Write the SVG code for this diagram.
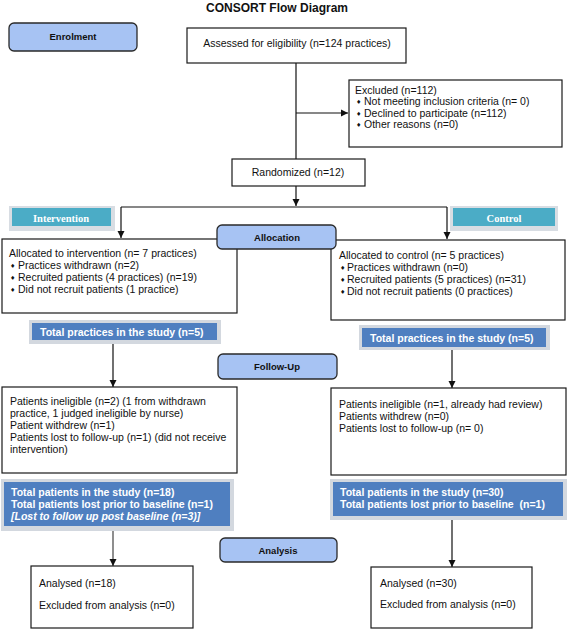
<svg xmlns="http://www.w3.org/2000/svg" width="568" height="629" viewBox="0 0 568 629">
<defs>
<marker id="arr" markerWidth="8" markerHeight="8" refX="7" refY="4" orient="auto" markerUnits="userSpaceOnUse">
<path d="M0,0.5 L7,4 L0,7.5 Z" fill="#111"/>
</marker>
</defs>
<style>
.box{fill:#fff;stroke:#1a1a1a;stroke-width:1.2}
.rbox{fill:#a7c3f3;stroke:#2a2a2a;stroke-width:1.3}
.t{font-family:"Liberation Sans",Arial,sans-serif;font-size:10.5px;fill:#111}
.rt{font-family:"Liberation Sans",Arial,sans-serif;font-size:9.5px;font-weight:bold;fill:#111;text-anchor:middle}
.bul{font-family:"DejaVu Sans",sans-serif;font-size:6px;fill:#111}
.lab{fill:#4bacc6}
.labo{fill:#d8dde3}
.labt{font-family:"Liberation Serif","Times New Roman",serif;font-size:10.5px;font-weight:bold;fill:#fff;text-anchor:middle}
.blue{fill:#4f7fc0}
.blueo{fill:#d3d8df}
.wt{font-family:"Liberation Sans",Arial,sans-serif;font-size:10.5px;font-weight:bold;fill:#fff}
.con{fill:none;stroke:#111;stroke-width:1.2}
</style>
<rect width="568" height="629" fill="#fff"/>
<text x="277" y="11.5" text-anchor="middle" style="font-family:'Liberation Sans',Arial,sans-serif;font-size:12px;font-weight:bold;fill:#111">CONSORT Flow Diagram</text>

<g id="connectors">
<path class="con" d="M296,63 V159"/>
<path class="con" d="M296,113 H348" marker-end="url(#arr)"/>
<path class="con" d="M296,186 V206" marker-end="url(#arr)"/>
<path class="con" d="M121,207 H447"/>
<path class="con" d="M121,207 V238" marker-end="url(#arr)"/>
<path class="con" d="M447,207 V239" marker-end="url(#arr)"/>
<path class="con" d="M113,344 V387" marker-end="url(#arr)"/>
<path class="con" d="M452,350 V388" marker-end="url(#arr)"/>
<path class="con" d="M113,531 V566" marker-end="url(#arr)" style="stroke:#444"/>
<path class="con" d="M452,520 V567" marker-end="url(#arr)"/>
</g>

<g id="enrolment">
<rect class="rbox" x="9" y="23" width="128" height="28" rx="5"/>
<text class="rt" x="73" y="39.5">Enrolment</text>
</g>

<g id="assessed">
<rect class="box" x="187" y="28" width="219" height="35"/>
<text class="t" x="297" y="47" text-anchor="middle">Assessed for eligibility (n=124 practices)</text>
</g>

<g id="excluded">
<rect class="box" x="349" y="80" width="213" height="67"/>
<text class="t" x="355" y="93.5">Excluded (n=112)</text>
<text class="bul" x="356" y="104">♦</text>
<text class="t" x="364" y="105">Not meeting inclusion criteria (n= 0)</text>
<text class="bul" x="356" y="115.5">♦</text>
<text class="t" x="364" y="116.5">Declined to participate (n=112)</text>
<text class="bul" x="356" y="127">♦</text>
<text class="t" x="364" y="128">Other reasons (n=0)</text>
</g>

<g id="randomized">
<rect class="box" x="232" y="159" width="133" height="27"/>
<text class="t" x="298" y="175.5" text-anchor="middle">Randomized (n=12)</text>
</g>

<g id="intervention-label">
<rect class="labo" x="9" y="206" width="106" height="25"/>
<rect class="lab" x="12" y="208" width="99" height="18"/>
<text class="labt" x="61" y="221.5">Intervention</text>
</g>

<g id="control-label">
<rect class="labo" x="450" y="206" width="108" height="25"/>
<rect class="lab" x="453" y="208" width="102" height="18"/>
<text class="labt" x="504" y="221.5">Control</text>
</g>

<g id="allocated-intervention">
<rect class="box" x="2" y="239" width="235" height="74"/>
<text class="t" x="9" y="256.5">Allocated to intervention (n= 7 practices)</text>
<text class="bul" x="10" y="267.5">♦</text>
<text class="t" x="18" y="268.5">Practices withdrawn (n=2)</text>
<text class="bul" x="10" y="279.5">♦</text>
<text class="t" x="18" y="280.5">Recruited patients (4 practices) (n=19)</text>
<text class="bul" x="10" y="291.5">♦</text>
<text class="t" x="18" y="292.5">Did not recruit patients (1 practice)</text>
</g>

<g id="allocated-control">
<rect class="box" x="331" y="240" width="234" height="80"/>
<text class="t" x="339" y="258.5">Allocated to control (n= 5 practices)</text>
<text class="bul" x="340" y="269.5">♦</text>
<text class="t" x="347" y="270.5">Practices withdrawn (n=0)</text>
<text class="bul" x="340" y="281.5">♦</text>
<text class="t" x="347" y="282.5">Recruited patients (5 practices) (n=31)</text>
<text class="bul" x="340" y="293.5">♦</text>
<text class="t" x="347" y="294.5">Did not recruit patients (0 practices)</text>
</g>

<g id="allocation">
<rect class="rbox" x="217" y="225" width="119" height="24" rx="5"/>
<text class="rt" x="277" y="240.5">Allocation</text>
</g>

<g id="total-practices-intervention">
<rect class="blueo" x="29" y="320" width="192" height="24"/>
<rect class="blue" x="32" y="323" width="185" height="17"/>
<text class="wt" x="40" y="335.5">Total practices in the study (n=5)</text>
</g>

<g id="total-practices-control">
<rect class="blueo" x="359" y="325" width="191" height="25"/>
<rect class="blue" x="362" y="328" width="184" height="19"/>
<text class="wt" x="370" y="341.5">Total practices in the study (n=5)</text>
</g>

<g id="follow-up">
<rect class="rbox" x="218" y="354" width="119" height="25" rx="5"/>
<text class="rt" x="277" y="370">Follow-Up</text>
</g>

<g id="followup-intervention">
<rect class="box" x="2" y="387" width="235" height="86"/>
<text class="t" x="10" y="404.5">Patients ineligible (n=2) (1 from withdrawn</text>
<text class="t" x="10" y="416.5">practice, 1 judged ineligible by nurse)</text>
<text class="t" x="10" y="428.5">Patient withdrew (n=1)</text>
<text class="t" x="10" y="440.5">Patients lost to follow-up (n=1) (did not receive</text>
<text class="t" x="10" y="452.5">intervention)</text>
</g>

<g id="followup-control">
<rect class="box" x="331" y="388" width="235" height="87"/>
<text class="t" x="339" y="407.5">Patients ineligible (n=1, already had review)</text>
<text class="t" x="339" y="419.5">Patients withdrew (n=0)</text>
<text class="t" x="339" y="431.5">Patients lost to follow-up (n= 0)</text>
</g>

<g id="total-patients-intervention">
<rect class="blueo" x="1" y="479" width="233" height="52"/>
<rect class="blue" x="4" y="482" width="226" height="44"/>
<text class="wt" x="11" y="495.5">Total patients in the study (n=18)</text>
<text class="wt" x="11" y="507.5">Total patients lost prior to baseline (n=1)</text>
<text class="wt" x="11" y="519.5" font-style="italic">[Lost to follow up post baseline (n=3)]</text>
</g>

<g id="total-patients-control">
<rect class="blueo" x="330" y="479" width="237" height="41"/>
<rect class="blue" x="333" y="482" width="230" height="34"/>
<text class="wt" x="340" y="495.5">Total patients in the study (n=30)</text>
<text class="wt" x="340" y="507.5" xml:space="preserve">Total patients lost prior to baseline  (n=1)</text>
</g>

<g id="analysis">
<rect class="rbox" x="220" y="538" width="117" height="24" rx="5"/>
<text class="rt" x="278" y="553.5">Analysis</text>
</g>

<g id="analysed-intervention">
<rect class="box" x="31" y="566" width="162" height="62"/>
<text class="t" x="39" y="586.5">Analysed (n=18)</text>
<text class="t" x="39" y="608.5">Excluded from analysis (n=0)</text>
</g>

<g id="analysed-control">
<rect class="box" x="371" y="567" width="161" height="61"/>
<text class="t" x="380" y="586.5">Analysed (n=30)</text>
<text class="t" x="380" y="608">Excluded from analysis (n=0)</text>
</g>
</svg>
